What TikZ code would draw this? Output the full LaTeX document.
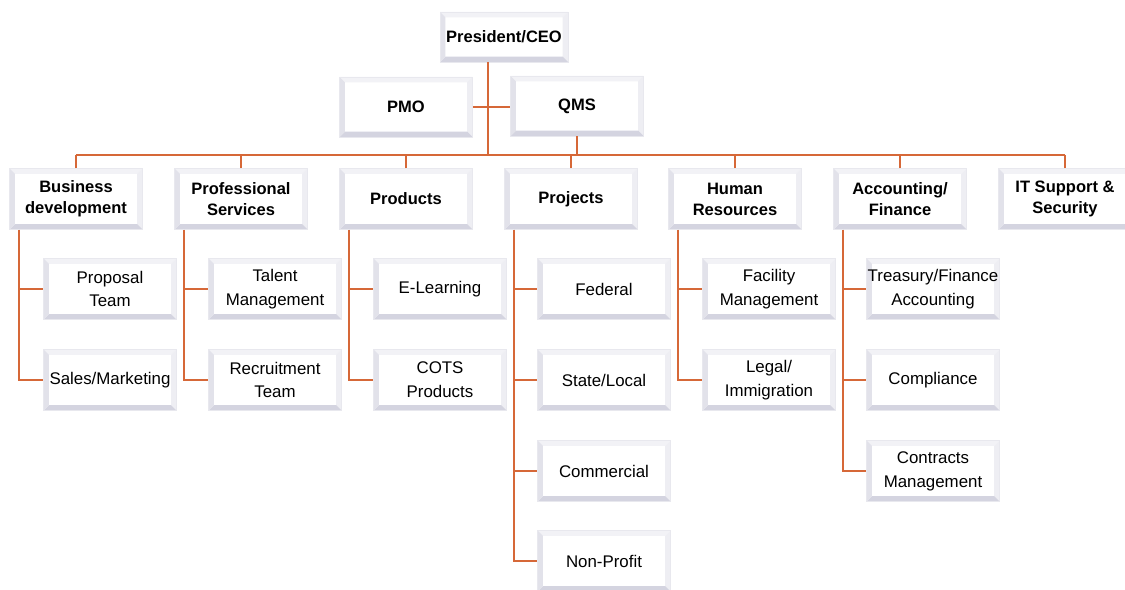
\documentclass[tikz,border=0pt]{standalone}
\usepackage{fontspec}
\setmainfont{Liberation Sans}
\usetikzlibrary{calc}

\definecolor{linkorange}{RGB}{214,104,56}
\definecolor{bevelrim}{RGB}{232,232,238}
\definecolor{bevelleft}{RGB}{226,226,234}
\definecolor{bevelbottom}{RGB}{212,212,224}
\definecolor{beveltop}{RGB}{242,242,246}
\definecolor{bevelright}{RGB}{238,238,243}

\begin{document}
\begin{tikzpicture}[x=0.02cm, y=-0.02cm]
        \tikzstyle{unit} = [rectangle, draw=bevelrim, fill=white, line width=0.4pt,
            minimum width=2.66cm, minimum height=1.22cm, inner sep=0pt, align=center,
            path picture={
                \coordinate (sw) at (path picture bounding box.south west);
                \coordinate (nw) at (path picture bounding box.north west);
                \coordinate (ne) at (path picture bounding box.north east);
                \coordinate (se) at (path picture bounding box.south east);
                \fill[beveltop] (nw) -- (ne) -- ([shift={(-3pt,-3pt)}]ne) -- ([shift={(3pt,-3pt)}]nw) -- cycle;
                \fill[bevelright] (ne) -- (se) -- ([shift={(-3pt,3pt)}]se) -- ([shift={(-3pt,-3pt)}]ne) -- cycle;
                \fill[bevelbottom] (se) -- (sw) -- ([shift={(3pt,3pt)}]sw) -- ([shift={(-3pt,3pt)}]se) -- cycle;
                \fill[bevelleft] (sw) -- (nw) -- ([shift={(3pt,-3pt)}]nw) -- ([shift={(3pt,3pt)}]sw) -- cycle;
            }]
        \tikzstyle{head unit} = [unit, font=\fontsize{9.4}{12}\selectfont\bfseries]
        \tikzstyle{sub unit} = [unit, font=\fontsize{9.6}{13.6}\selectfont]
        \tikzstyle{link} = [draw=linkorange, line width=1.2pt]

        \useasboundingbox (0,0) rectangle (1125,590);

        % top management
        \node[head unit, minimum width=2.56cm, minimum height=1.0cm](ceo) at(504, 37) {President/CEO};
        \node[head unit, minimum height=1.2cm](pmo) at(406, 107) {PMO};
        \node[head unit, minimum height=1.2cm](qms) at(577, 106) {QMS};

        % departments
        \node[head unit](bizdev) at(76, 199) {Business\\development};
        \node[head unit](proserv) at(241, 199) {Professional\\Services};
        \node[head unit](products) at(406, 199) {Products};
        \node[head unit](projects) at(571, 199) {Projects};
        \node[head unit](hr) at(735, 199) {Human\\Resources};
        \node[head unit](finance) at(900, 199) {Accounting/\\Finance};
        \node[head unit](itsec) at(1065, 199) {IT Support \&\\Security};

        % teams
        \node[sub unit](proposal) at(110, 289) {Proposal\\Team};
        \node[sub unit](sales) at(110, 380) {Sales/Marketing};
        \node[sub unit](talent) at(275, 289) {Talent\\Management};
        \node[sub unit](recruit) at(275, 380) {Recruitment\\Team};
        \node[sub unit](elearn) at(440, 289) {E-Learning};
        \node[sub unit](cots) at(440, 380) {COTS\\Products};
        \node[sub unit](federal) at(604, 289) {Federal};
        \node[sub unit](state) at(604, 380) {State/Local};
        \node[sub unit](commercial) at(604, 471) {Commercial};
        \node[sub unit](nonprofit) at(604, 561) {Non-Profit};
        \node[sub unit](facility) at(769, 289) {Facility\\Management};
        \node[sub unit](legal) at(769, 380) {Legal/\\Immigration};
        \node[sub unit](treasury) at(933, 289) {Treasury/Finance\\Accounting};
        \node[sub unit](compliance) at(933, 380) {Compliance};
        \node[sub unit](contracts) at(933, 471) {Contracts\\Management};

        % bus and trunk
        \coordinate (trunk) at(488, 155);
        \coordinate (busL) at(76, 155);
        \coordinate (busR) at(1065, 155);

        \draw[link] (ceo.south -| trunk) -- (trunk);
        \draw[link] (pmo.east) -- (pmo.east -| qms.west);
        \draw[link] (qms.south) -- (qms.south |- trunk);
        \draw[link] (busL) -- (busR);
        \draw[link] (bizdev.north) -- (bizdev.north |- busL);
        \draw[link] (proserv.north) -- (proserv.north |- busL);
        \draw[link] (products.north) -- (products.north |- busL);
        \draw[link] (projects.north) -- (projects.north |- busL);
        \draw[link] (hr.north) -- (hr.north |- busL);
        \draw[link] (finance.north) -- (finance.north |- busL);
        \draw[link] (itsec.north) -- (itsec.north |- busL);

        % team branches
        \draw[link] ([xshift=0.2cm]bizdev.south west) |- (proposal.west);
        \draw[link] ([xshift=0.2cm]bizdev.south west) |- (sales.west);
        \draw[link] ([xshift=0.2cm]proserv.south west) |- (talent.west);
        \draw[link] ([xshift=0.2cm]proserv.south west) |- (recruit.west);
        \draw[link] ([xshift=0.2cm]products.south west) |- (elearn.west);
        \draw[link] ([xshift=0.2cm]products.south west) |- (cots.west);
        \draw[link] ([xshift=0.2cm]projects.south west) |- (federal.west);
        \draw[link] ([xshift=0.2cm]projects.south west) |- (state.west);
        \draw[link] ([xshift=0.2cm]projects.south west) |- (commercial.west);
        \draw[link] ([xshift=0.2cm]projects.south west) |- (nonprofit.west);
        \draw[link] ([xshift=0.2cm]hr.south west) |- (facility.west);
        \draw[link] ([xshift=0.2cm]hr.south west) |- (legal.west);
        \draw[link] ([xshift=0.2cm]finance.south west) |- (treasury.west);
        \draw[link] ([xshift=0.2cm]finance.south west) |- (compliance.west);
        \draw[link] ([xshift=0.2cm]finance.south west) |- (contracts.west);
    \end{tikzpicture}
\end{document}
